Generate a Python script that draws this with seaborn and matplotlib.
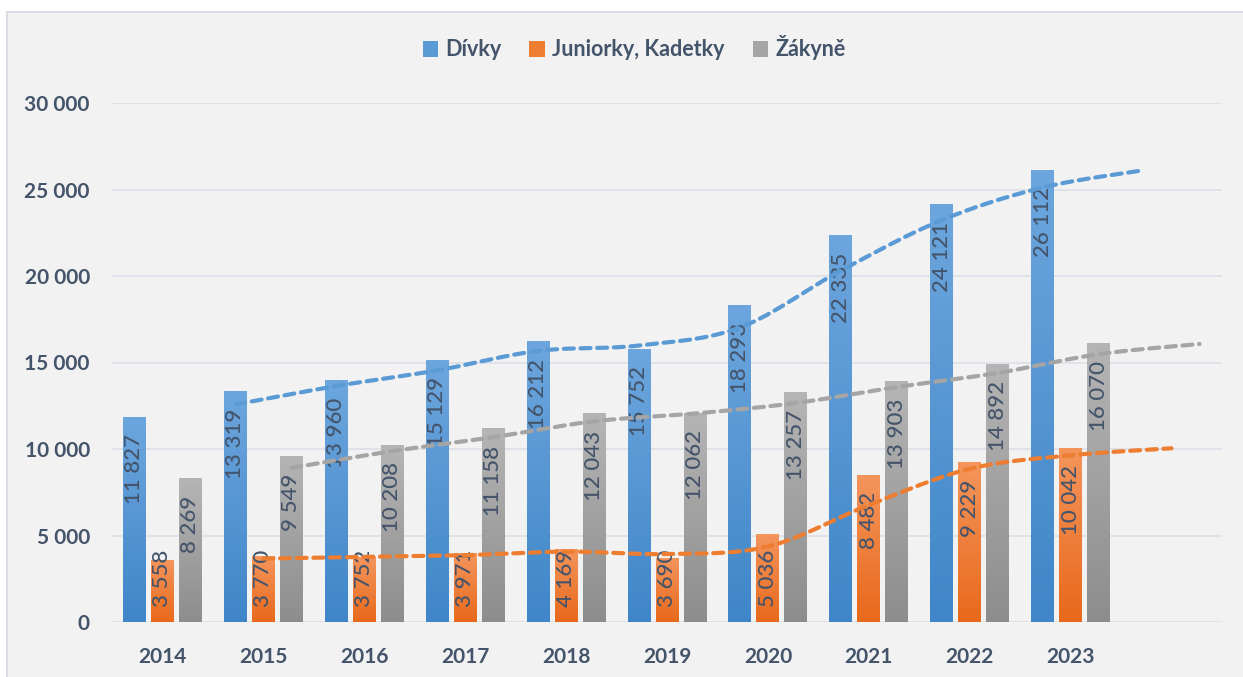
import numpy as np
import pandas as pd
import matplotlib
matplotlib.use("Agg")
import matplotlib.pyplot as plt
import seaborn as sns
from matplotlib.patches import Rectangle, Patch
from matplotlib.colors import LinearSegmentedColormap

years = ["2014", "2015", "2016", "2017", "2018", "2019", "2020", "2021", "2022", "2023"]
series_names = ["Dívky", "Juniorky, Kadetky", "Žákyně"]
divky = [11827, 13319, 13960, 15129, 16212, 15752, 18293, 22335, 24121, 26112]
juniorky = [3558, 3770, 3752, 3971, 4169, 3690, 5036, 8482, 9229, 10042]
zakyne = [8269, 9549, 10208, 11158, 12043, 12062, 13257, 13903, 14892, 16070]
y_ticks = [0, 5000, 10000, 15000, 20000, 25000, 30000]

sns.set_theme(style="white")
plt.rcParams["font.family"] = ["Lato", "DejaVu Sans"]

TXT = "#44546a"
grad = {
    "Dívky": ("#3f86c8", "#6da6de"),
    "Juniorky, Kadetky": ("#e8691b", "#f4955c"),
    "Žákyně": ("#8d8d8d", "#b5b5b5"),
}
line_col = {"Dívky": "#5b9bd5", "Juniorky, Kadetky": "#ed7d31", "Žákyně": "#a5a5a5"}
mid_col = {"Dívky": "#5b9bd5", "Juniorky, Kadetky": "#ed7d31", "Žákyně": "#a5a5a5"}

W, H = 1243, 677
fig = plt.figure(figsize=(W / 100, H / 100), dpi=100)
fig.patch.set_facecolor("white")
fig.patches.append(Rectangle((7 / W, -0.02), 1.1, (H - 12) / H + 0.02, transform=fig.transFigure,
                             facecolor="#f2f2f2", edgecolor="#d9dde3", lw=1.5, zorder=-10))

ax = fig.add_axes([112 / W, (H - 622) / H, (1222 - 112) / W, (622 - 103) / H])
ax.set_facecolor("none")

df = pd.DataFrame({
    "year": years * 3,
    "series": [series_names[0]] * 10 + [series_names[1]] * 10 + [series_names[2]] * 10,
    "value": divky + juniorky + zakyne,
})

offset = 0.2775
sns.barplot(data=df, x="year", y="value", hue="series", hue_order=series_names,
            order=years, width=3 * offset, gap=0.18, ax=ax, legend=False,
            palette=[mid_col[s] for s in series_names], errorbar=None, saturation=1, zorder=2)

ax.set_xlim(-0.5, 10.5)
ax.set_ylim(0, 30000)

# gradients on bars
bars = list(ax.patches)
bar_info = []
for k, p in enumerate(bars):
    s = series_names[k // 10]
    x0, y0, w, h = p.get_x(), p.get_y(), p.get_width(), p.get_height()
    c0, c1 = grad[s]
    cmap = LinearSegmentedColormap.from_list("g", [c0, c1])
    arr = np.linspace(0, 1, 256).reshape(-1, 1)
    ax.imshow(arr, extent=[x0, x0 + w, y0, y0 + h], origin="lower", aspect="auto",
              cmap=cmap, zorder=2.5, interpolation="bilinear")
    p.set_visible(False)
    bar_info.append((x0 + w / 2, h, s))

ax.set_xlim(-0.5, 10.5)
ax.set_ylim(0, 30000)

# gridlines
ax.set_yticks(y_ticks)
ax.set_yticklabels([f"{v:,}".replace(",", " ") for v in y_ticks])
ax.yaxis.grid(True, color="#dde2e9", lw=1.3, zorder=0)
ax.set_axisbelow(True)
for sp in ax.spines.values():
    sp.set_visible(False)
ax.set_xticks(range(10))
ax.set_xticklabels(years)
ax.tick_params(axis="both", length=0, labelsize=15, labelcolor=TXT)
ax.tick_params(axis="x", pad=18)
ax.tick_params(axis="y", pad=16)
for lab in ax.get_xticklabels() + ax.get_yticklabels():
    lab.set_fontweight("bold")
ax.set_xlabel("")
ax.set_ylabel("")

# data labels (inside end, shifted up to fit for short bars)
fig.canvas.draw()
renderer = fig.canvas.get_renderer()
to_px = ax.transData
inv = ax.transData.inverted()
for (xc, val, s) in bar_info:
    label = f"{val:,.0f}".replace(",", " ")
    t = ax.text(xc, val, label, rotation=90, ha="center", va="top", fontsize=16,
                color=TXT, zorder=3, fontweight="medium")
    ext = t.get_window_extent(renderer)
    tlen = ext.height
    _, top_px = to_px.transform((xc, val))
    _, base_px = to_px.transform((xc, 0))
    ypx = max(top_px - 17, base_px + 15 + tlen)
    _, ydata = inv.transform((0, ypx))
    t.set_y(ydata)

# moving average trendlines (period 2), smoothed
def catmull(xs, ys, n=30):
    P = np.column_stack([xs, ys])
    P = np.vstack([P[0], P, P[-1]])
    out = []
    for i in range(1, len(P) - 2):
        p0, p1, p2, p3 = P[i - 1], P[i], P[i + 1], P[i + 2]
        t = np.linspace(0, 1, n)[:, None]
        c = 0.5 * ((2 * p1) + (-p0 + p2) * t + (2 * p0 - 5 * p1 + 4 * p2 - p3) * t ** 2
                   + (-p0 + 3 * p1 - 3 * p2 + p3) * t ** 3)
        out.append(c)
    out = np.vstack(out)
    return out[:, 0], out[:, 1]

for j, (s, vals) in enumerate(zip(series_names, [divky, juniorky, zakyne])):
    vals = np.array(vals, dtype=float)
    ma = [(vals[i - 1] + vals[i]) / 2 for i in range(1, 10)] + [vals[9]]
    xs = np.arange(1, 11) + (j - 1) * offset
    sx, sy = catmull(xs, np.array(ma))
    ax.plot(sx, sy, color=line_col[s], lw=3.0, dashes=(2.4, 1.6), dash_capstyle="round",
            zorder=4)

ax.set_xlim(-0.5, 10.5)
ax.set_ylim(0, 30000)

# legend
handles = [Patch(facecolor=mid_col[s], edgecolor="none") for s in series_names]
leg = fig.legend(handles, series_names, loc="center", bbox_to_anchor=(634 / W, 1 - 48 / H),
                 ncol=3, frameon=False, fontsize=15.5, handlelength=0.7, handleheight=0.7,
                 handletextpad=0.35, columnspacing=1.3)
for txt in leg.get_texts():
    txt.set_color(TXT)
    txt.set_fontweight("bold")

fig.savefig("out.png", dpi=100)
